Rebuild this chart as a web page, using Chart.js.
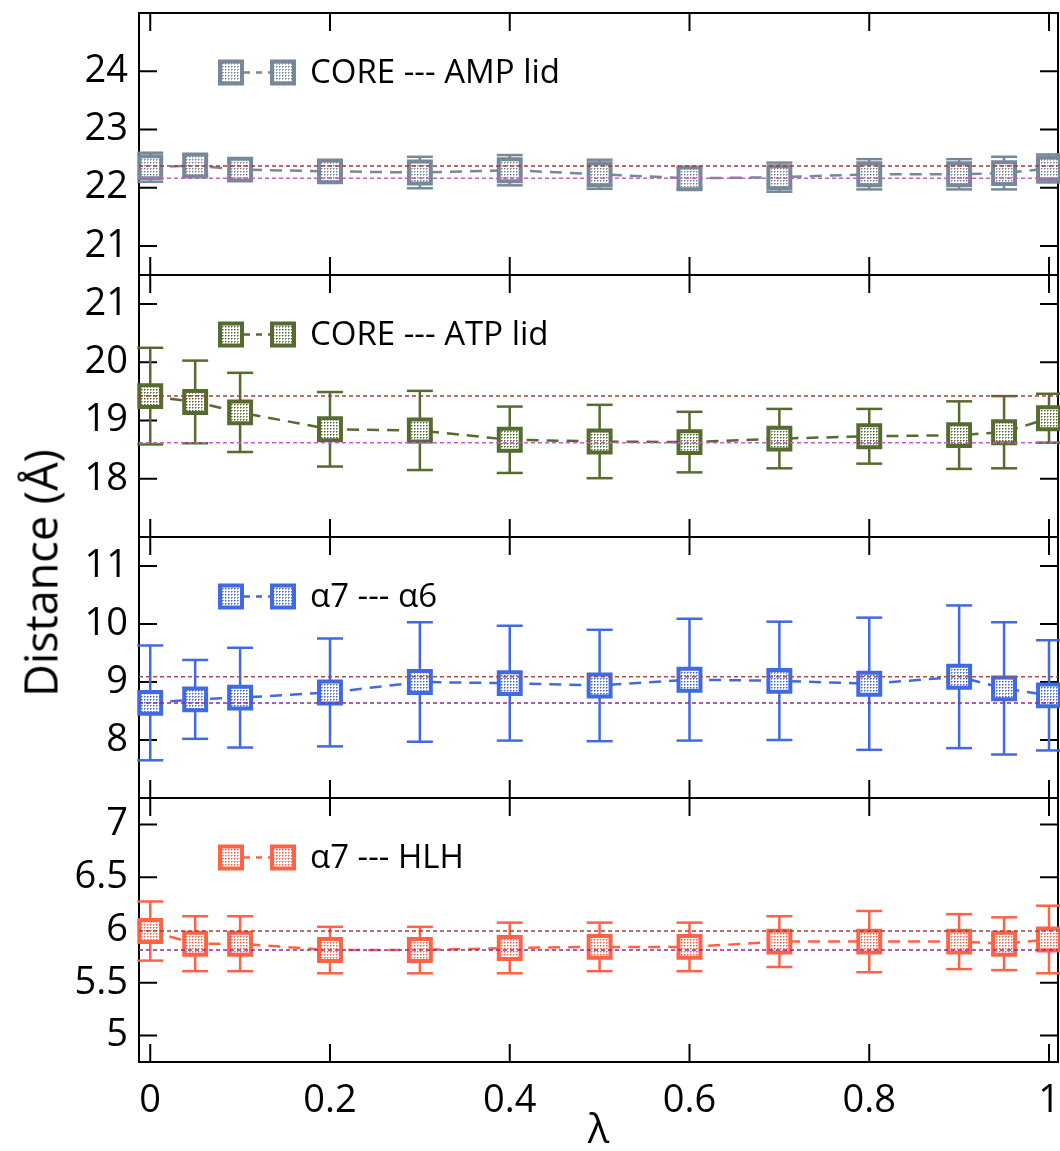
<!DOCTYPE html>
<html>
<head>
<meta charset="utf-8">
<title>Distance vs lambda</title>
<script src="https://cdn.jsdelivr.net/npm/chart.js@4.4.0/dist/chart.umd.min.js"></script>
<style>
body { margin: 0; background: #fff; }
#wrap { position: relative; width: 1060px; height: 1151px; }
#wrap canvas { position: absolute; left: 0; }
#ytitle {
  position: absolute; left: 40px; top: 573px;
  transform: translate(-50%, -50%) rotate(-90deg);
  font: 45px 'Open Sans', sans-serif; color: #000; white-space: nowrap;
}
</style>
</head>
<body>
<div id="wrap">
  <canvas id="p1" width="1060" height="275" style="top:0px"></canvas>
  <canvas id="p2" width="1060" height="262" style="top:275px"></canvas>
  <canvas id="p3" width="1060" height="261" style="top:537px"></canvas>
  <canvas id="p4" width="1060" height="353" style="top:798px"></canvas>
  <div id="ytitle">Distance (Å)</div>
</div>

<script>
// lambda windows
var lambdas = [0, 0.05, 0.1, 0.2, 0.3, 0.4, 0.5, 0.6, 0.7, 0.8, 0.9, 0.95, 1];
var xTicks = [0, 0.2, 0.4, 0.6, 0.8, 1];
var xLabels = ['0', '0.2', '0.4', '0.6', '0.8', '1'];

// CORE --- AMP lid
var ampMean = [22.35, 22.38, 22.31, 22.28, 22.26, 22.30, 22.23, 22.16, 22.18, 22.23, 22.23, 22.25, 22.33];
var ampErr  = [0.25, 0.18, 0.18, 0.18, 0.27, 0.26, 0.25, 0.18, 0.25, 0.26, 0.26, 0.28, 0.24];
var ampRef  = [22.37, 22.16];
var ampTicks = [21, 22, 23, 24];

// CORE --- ATP lid
var atpMean = [19.42, 19.32, 19.14, 18.85, 18.83, 18.67, 18.64, 18.63, 18.69, 18.73, 18.75, 18.80, 19.04];
var atpErr  = [0.83, 0.71, 0.68, 0.64, 0.68, 0.57, 0.63, 0.52, 0.51, 0.47, 0.58, 0.62, 0.42];
var atpRef  = [19.42, 18.62];
var atpTicks = [18, 19, 20, 21];

// a7 --- a6
var a6Mean = [8.64, 8.70, 8.73, 8.82, 9.00, 8.98, 8.94, 9.04, 9.02, 8.97, 9.09, 8.89, 8.77];
var a6Err  = [0.99, 0.68, 0.86, 0.93, 1.03, 0.99, 0.96, 1.05, 1.02, 1.14, 1.23, 1.14, 0.95];
var a6Ref  = [9.09, 8.64];
var a6Ticks = [8, 9, 10, 11];

// a7 --- HLH
var hlhMean = [5.99, 5.87, 5.87, 5.81, 5.81, 5.83, 5.84, 5.84, 5.89, 5.89, 5.89, 5.87, 5.91];
var hlhErr  = [0.28, 0.26, 0.26, 0.22, 0.22, 0.24, 0.23, 0.23, 0.24, 0.29, 0.26, 0.25, 0.32];
var hlhRef  = [5.99, 5.81];
var hlhTicks = [5, 5.5, 6, 6.5, 7];

var FONT = "'Open Sans', sans-serif";
Chart.defaults.font.family = FONT;
Chart.defaults.color = '#000';

// dotted fill used inside the square markers
function stipple(color) {
  var c = document.createElement('canvas');
  c.width = 3; c.height = 3;
  var g = c.getContext('2d');
  g.fillStyle = '#fff';
  g.fillRect(0, 0, 3, 3);
  g.fillStyle = color;
  g.fillRect(0, 0, 1, 1);
  g.globalAlpha = 0.6;
  g.fillRect(1, 0, 1, 1);
  g.fillRect(0, 1, 1, 1);
  return g.createPattern(c, 'repeat');
}

// box frame + inward ticks on all four sides
var framePlugin = {
  id: 'frame',
  beforeDatasetsDraw: function(chart) {
    var ctx = chart.ctx, a = chart.chartArea, sx = chart.scales.x, sy = chart.scales.y;
    var t = 18;
    ctx.save();
    ctx.strokeStyle = '#000';
    ctx.lineWidth = 2;
    ctx.strokeRect(a.left, a.top, a.right - a.left, a.bottom - a.top);
    ctx.beginPath();
    sy.ticks.forEach(function(tk) {
      var py = sy.getPixelForValue(tk.value);
      ctx.moveTo(a.left, py); ctx.lineTo(a.left + t, py);
      ctx.moveTo(a.right, py); ctx.lineTo(a.right - t, py);
    });
    xTicks.forEach(function(v) {
      var px = sx.getPixelForValue(v);
      ctx.moveTo(px, a.top); ctx.lineTo(px, a.top + t);
      ctx.moveTo(px, a.bottom); ctx.lineTo(px, a.bottom - t);
    });
    ctx.stroke();
    ctx.restore();
  }
};

// legend: marker - - marker  label
var legendPlugin = {
  id: 'panelLegend',
  afterDraw: function(chart, args, opts) {
    var ctx = chart.ctx, a = chart.chartArea;
    var y = a.top + 59.5;
    var s = 22;
    ctx.save();
    ctx.strokeStyle = opts.color;
    ctx.lineWidth = 2.5;
    ctx.setLineDash([6, 6]);
    ctx.beginPath();
    ctx.moveTo(244, y); ctx.lineTo(270, y);
    ctx.stroke();
    ctx.setLineDash([]);
    [231, 283].forEach(function(x) {
      ctx.fillStyle = opts.fill;
      ctx.fillRect(x - s / 2, y - s / 2, s, s);
      ctx.lineWidth = 4;
      ctx.strokeRect(x - s / 2, y - s / 2, s, s);
    });
    ctx.fillStyle = '#000';
    ctx.font = '33px ' + FONT;
    ctx.textBaseline = 'middle';
    ctx.fillText(opts.text, 310, y + 1);
    ctx.restore();
  }
};

function makePanel(id, p) {
  var fill = stipple(p.color);
  var pts = lambdas.map(function(x, i) { return {x: x, y: p.mean[i]}; });
  // error bars: low/high pairs split by gaps
  var bars = [];
  lambdas.forEach(function(x, i) {
    bars.push({x: x, y: p.mean[i] - p.err[i]});
    bars.push({x: x, y: p.mean[i] + p.err[i]});
    bars.push({x: x, y: null});
  });
  var xMin = -0.0125, xMax = 1.01;
  var refLine = function(v, col) {
    return {
      data: [{x: xMin, y: v}, {x: xMax, y: v}],
      showLine: true, borderColor: col, borderWidth: 1.5, borderDash: [4, 3],
      pointRadius: 0, clip: false
    };
  };

  var xScale = {
    type: 'linear', min: xMin, max: xMax, display: p.showX,
    grid: { display: false, drawTicks: false }, border: { display: false },
    afterBuildTicks: function(s) { s.ticks = xTicks.map(function(v) { return {value: v}; }); },
    ticks: {
      font: { size: 38 }, padding: 16, maxRotation: 0,
      callback: function(v) { var k = xTicks.indexOf(v); return k >= 0 ? xLabels[k] : ''; }
    },
    title: { display: true, text: 'λ', font: { size: 40, lineHeight: 1.2 }, padding: { top: 0, bottom: -5 } }
  };
  if (p.showX) xScale.afterFit = function(s) { s.height = 89; s.paddingLeft = 0; s.paddingRight = 0; };

  new Chart(document.getElementById(id), {
    type: 'scatter',
    data: {
      datasets: [
        refLine(p.ref[0], p.refHi),
        refLine(p.ref[1], p.refLo),
        {
          data: pts, showLine: true,
          borderColor: p.color, borderWidth: 2.5, borderDash: [12, 8],
          pointStyle: 'rect', pointRadius: 15.5, pointBorderWidth: 4,
          pointBorderColor: p.color, pointBackgroundColor: fill, clip: false
        },
        {
          data: bars, showLine: true, spanGaps: false,
          borderColor: p.color, borderWidth: 2.5,
          pointStyle: 'line', pointRadius: 13, pointBorderWidth: 2.5,
          pointBorderColor: p.color, clip: false
        }
      ]
    },
    options: {
      responsive: false, animation: false, devicePixelRatio: 1,
      layout: { autoPadding: false, padding: { top: p.padTop, right: 2, bottom: 0, left: 0 } },
      plugins: {
        legend: { display: false }, tooltip: { enabled: false },
        panelLegend: { text: p.label, color: p.color, fill: fill }
      },
      scales: {
        x: xScale,
        y: {
          type: 'linear', min: p.min, max: p.max,
          grid: { display: false, drawTicks: false }, border: { display: false },
          afterBuildTicks: function(s) { s.ticks = p.ticks.map(function(v) { return {value: v}; }); },
          afterFit: function(s) { s.width = 139; s.paddingTop = 0; s.paddingBottom = 0; },
          ticks: { font: { size: 38 }, padding: 11, callback: function(v) { return String(v); } }
        }
      }
    },
    plugins: [framePlugin, legendPlugin]
  });
}

makePanel('p1', { mean: ampMean, err: ampErr, ref: ampRef, ticks: ampTicks, min: 20.5, max: 25,
  color: '#778899', refHi: '#a33b3b', refLo: '#c060c8', label: 'CORE --- AMP lid', padTop: 13, showX: false });
makePanel('p2', { mean: atpMean, err: atpErr, ref: atpRef, ticks: atpTicks, min: 17, max: 21.5,
  color: '#556b2f', refHi: '#b03a3a', refLo: '#c060c8', label: 'CORE --- ATP lid', padTop: 0, showX: false });
makePanel('p3', { mean: a6Mean, err: a6Err, ref: a6Ref, ticks: a6Ticks, min: 7, max: 11.5,
  color: '#4169e1', refHi: '#a05050', refLo: '#8e2a9a', label: 'α7 --- α6', padTop: 0, showX: false });
makePanel('p4', { mean: hlhMean, err: hlhErr, ref: hlhRef, ticks: hlhTicks, min: 4.75, max: 7.25,
  color: '#ff6347', refHi: '#a04040', refLo: '#8e2a9a', label: 'α7 --- HLH', padTop: 0, showX: true });
</script>
</body>
</html>
